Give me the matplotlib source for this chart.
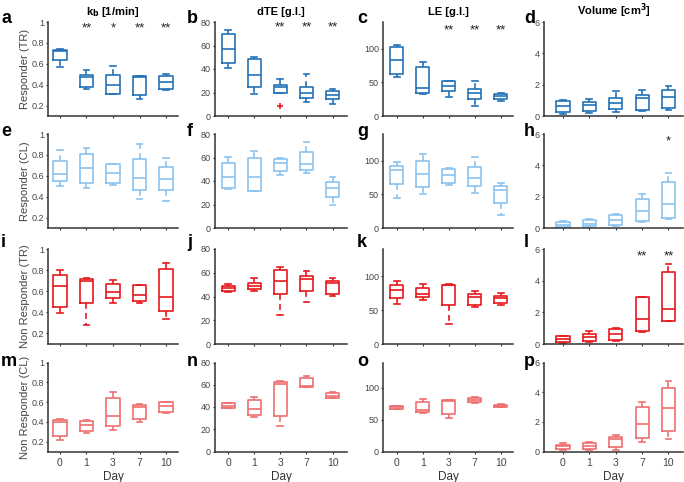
import matplotlib
matplotlib.use("Agg")
import matplotlib.pyplot as plt

plt.rcParams['font.family'] = ['Liberation Sans', 'DejaVu Sans']

days = ["0", "1", "3", "7", "10"]

# each row: [whisker low, q1, median, q3, whisker high] per day
kb_resp_tr = [[0.57, 0.64, 0.72, 0.73, 0.74], [0.36, 0.38, 0.47, 0.49, 0.545],
              [0.31, 0.31, 0.395, 0.49, 0.58], [0.26, 0.30, 0.47, 0.48, 0.48],
              [0.35, 0.36, 0.43, 0.48, 0.50]]
dte_resp_tr = [[41, 45, 57.4, 70, 73], [19, 24.3, 34.6, 48.6, 50],
               [20, 20, 24.6, 26.6, 31.7], [12, 15.7, 19.4, 25.1, 35.7],
               [10.3, 14.6, 18, 21.4, 22.9]]
le_resp_tr = [[58, 62, 82.8, 103.4, 106], [33.5, 34.5, 42, 73, 80],
              [28.6, 37.4, 44.3, 51.7, 52], [14.8, 24.6, 34.5, 40.9, 51.7],
              [22, 25.6, 30, 33.5, 34]]
vol_resp_tr = [[0.13, 0.27, 0.67, 0.96, 1.05], [0.17, 0.31, 0.69, 0.90, 1.07],
               [0.23, 0.44, 0.80, 1.15, 1.60], [0.31, 0.38, 1.15, 1.36, 1.68],
               [0.38, 0.48, 1.22, 1.68, 1.93]]

kb_resp_cl = [[0.50, 0.55, 0.62, 0.74, 0.85], [0.48, 0.53, 0.67, 0.81, 0.87],
              [0.51, 0.53, 0.63, 0.71, 0.71], [0.38, 0.46, 0.58, 0.765, 0.90],
              [0.355, 0.46, 0.57, 0.68, 0.775]]
dte_resp_cl = [[33, 33.9, 43, 55, 60.7], [31.6, 31.9, 43.2, 59.3, 65.5],
               [45.2, 48.9, 55, 58.8, 59.3], [47.2, 49.4, 54.5, 65, 73.4],
               [19.2, 26.3, 34.2, 39.5, 43.8]]
le_resp_cl = [[45.2, 64.8, 85.7, 92.9, 99], [50, 61, 80, 100, 109.5],
              [63.3, 66.7, 79, 88.6, 89.5], [51.4, 61.9, 75, 90.5, 106],
              [19, 37, 56, 61.9, 66.7]]
vol_resp_cl = [[0.02, 0.06, 0.21, 0.38, 0.43], [0.02, 0.10, 0.28, 0.49, 0.55],
               [0.10, 0.17, 0.53, 0.81, 0.88], [0.38, 0.45, 1.07, 1.84, 2.20],
               [0.60, 0.66, 1.54, 2.93, 3.52]]

kb_non_tr = [[0.39, 0.45, 0.65, 0.755, 0.805], [0.276, 0.49, 0.695, 0.717, 0.727],
             [0.49, 0.534, 0.594, 0.667, 0.71], [0.49, 0.506, 0.56, 0.657, 0.657],
             [0.34, 0.41, 0.547, 0.815, 0.87]]
dte_non_tr = [[43.5, 45, 47.2, 49.2, 50.6], [45, 46.3, 49.2, 51.4, 55.6],
              [24.7, 42.4, 52.8, 62.6, 64.9], [35, 45, 54.8, 57, 61.2],
              [40.2, 42.1, 51.4, 52.8, 55.6]]
le_non_tr = [[59, 67.6, 79.5, 87.6, 92.4], [64.3, 68.6, 73.3, 82.9, 89],
             [29.5, 58, 86.7, 87.6, 88], [54.8, 58, 68.6, 73.8, 78.6],
             [58, 60.5, 67.6, 71, 75.7]]
vol_non_tr = [[0.08, 0.15, 0.32, 0.50, 0.53], [0.15, 0.19, 0.42, 0.61, 0.85],
              [0.21, 0.25, 0.61, 0.97, 1.04], [0.78, 0.82, 1.59, 3.0, 3.0],
              [1.46, 1.46, 2.22, 4.55, 5.05]]

kb_non_cl = [[0.217, 0.255, 0.395, 0.42, 0.43], [0.29, 0.305, 0.37, 0.41, 0.42],
             [0.32, 0.355, 0.46, 0.64, 0.70], [0.396, 0.43, 0.555, 0.575, 0.58],
             [0.487, 0.50, 0.56, 0.60, 0.605]]
dte_non_cl = [[39, 39, 41, 43.4, 44], [30.8, 33, 38.6, 46.4, 48.8],
              [22.5, 32.3, 60.8, 62.3, 63.5], [58.4, 58.4, 59.3, 65.9, 68.3],
              [47.9, 47.9, 50, 52.7, 53.3]]
le_non_cl = [[66.3, 66.8, 69.3, 71.8, 72.3], [60.9, 61.9, 65.3, 78.2, 83.2],
             [52, 58.4, 80.2, 80.7, 80.7], [76.7, 77.7, 80.7, 83.7, 85],
             [69.3, 69.3, 71.8, 73.3, 74.3]]
vol_non_cl = [[0.11, 0.16, 0.34, 0.45, 0.56], [0.07, 0.18, 0.40, 0.56, 0.61],
              [0.11, 0.29, 0.83, 1.01, 1.12], [0.63, 0.90, 1.84, 2.99, 3.33],
              [0.85, 1.39, 2.92, 4.31, 4.76]]

# outliers: panel -> list of (day index, value)
outliers = {"b": [(2, 8.6)]}

# significance marks: panel -> list of (day index, text)
stars = {"a": [(1, "**"), (2, "*"), (3, "**"), (4, "**")],
         "b": [(2, "**"), (3, "**"), (4, "**")],
         "c": [(2, "**"), (3, "**"), (4, "**")],
         "h": [(4, "*")],
         "l": [(3, "**"), (4, "**")]}

panels = [[kb_resp_tr, dte_resp_tr, le_resp_tr, vol_resp_tr],
          [kb_resp_cl, dte_resp_cl, le_resp_cl, vol_resp_cl],
          [kb_non_tr, dte_non_tr, le_non_tr, vol_non_tr],
          [kb_non_cl, dte_non_cl, le_non_cl, vol_non_cl]]
letters = [["a", "b", "c", "d"], ["e", "f", "g", "h"],
           ["i", "j", "k", "l"], ["m", "n", "o", "p"]]
row_labels = ["Responder (TR)", "Responder (CL)", "Non Responder (TR)", "Non Responder (CL)"]
col_titles = ["k$_\\mathbf{b}$ [1/min]", "dTE [g.l.]", "LE [g.l.]", "Volume [cm$^\\mathbf{3}$]"]
row_colors = ["#2272b8", "#8cc3ef", "#e8181c", "#ef6e6e"]

ylims = [(0.1, 1), (0, 80), (0, 140), (0, 6)]
yticks = [[0.2, 0.4, 0.6, 0.8, 1], [0, 20, 40, 60, 80], [0, 50, 100], [0, 2, 4, 6]]
yticklabels = [["0.2", "0.4", "0.6", "0.8", "1"], None, None, None]
star_y = [0.94, 75, 127, 5.5]

W, H = 684, 482
fig = plt.figure(figsize=(6.84, 4.82), dpi=100)

col_left = [48, 215, 383, 544]
col_width = [130, 132, 130, 139]
col_xlim = [(0.55, 5.45), (0.5, 5.55), (0.47, 5.47), (0.28, 5.55)]
row_top = [22, 134, 249, 362.5]
row_bot = [116, 228, 344, 451.5]
letter_x = [1, 187, 357, 524]
letter_base = [23, 136, 247, 366]

for r in range(4):
    for c in range(4):
        ax = fig.add_axes([col_left[c] / W, 1 - row_bot[r] / H,
                           col_width[c] / W, (row_bot[r] - row_top[r]) / H])
        col = row_colors[r]
        letter = letters[r][c]
        stats = []
        for i, (lo, q1, med, q3, hi) in enumerate(panels[r][c]):
            fl = [v for (d, v) in outliers.get(letter, []) if d == i]
            stats.append(dict(whislo=lo, q1=q1, med=med, q3=q3, whishi=hi, fliers=fl))
        ax.bxp(stats, positions=range(1, 6), widths=0.5, capwidths=0.22,
               boxprops=dict(color=col, linewidth=1.2),
               medianprops=dict(color=col, linewidth=1.2),
               whiskerprops=dict(color=col, linewidth=1.2, linestyle=(0, (3.5, 2.5))),
               capprops=dict(color=col, linewidth=1.2),
               flierprops=dict(marker="+", markeredgecolor="#e8181c", markersize=5,
                               markeredgewidth=1.2))
        ax.set_xlim(*col_xlim[c])
        ax.set_ylim(*ylims[c])
        ax.set_yticks(yticks[c])
        if yticklabels[c]:
            ax.set_yticklabels(yticklabels[c])
        ax.set_xticks(range(1, 6))
        if r == 3:
            ax.set_xticklabels(days)
            ax.set_xlabel("Day", fontsize=8.5, color="#333333", labelpad=2)
        else:
            ax.set_xticklabels([])
        for s in ["top", "right"]:
            ax.spines[s].set_visible(False)
        for s in ["left", "bottom"]:
            ax.spines[s].set_color("#333333")
            ax.spines[s].set_linewidth(1.1)
        ax.tick_params(direction="out", length=1.5, width=0.8, colors="#333333",
                       labelcolor="#444444", pad=1.5)
        ax.tick_params(axis="y", labelsize=6.5)
        ax.tick_params(axis="x", labelsize=7.5, pad=3)
        if c == 0:
            ax.set_ylabel(row_labels[r], fontsize=8, color="#444444")
            ax.yaxis.set_label_coords(-0.14, 0.5)
        if r == 0:
            ax.set_title(col_titles[c], fontsize=8, fontweight="bold", pad=5)
        for d, txt in stars.get(letter, []):
            ax.text(d + 1, star_y[c], txt, ha="center", va="center", fontsize=9.5,
                    color="#222222")
        fig.text(letter_x[c] / W, 1 - letter_base[r] / H, letter, fontsize=13,
                 fontweight="bold", ha="left", va="baseline")

fig.savefig("out.png", dpi=100)
